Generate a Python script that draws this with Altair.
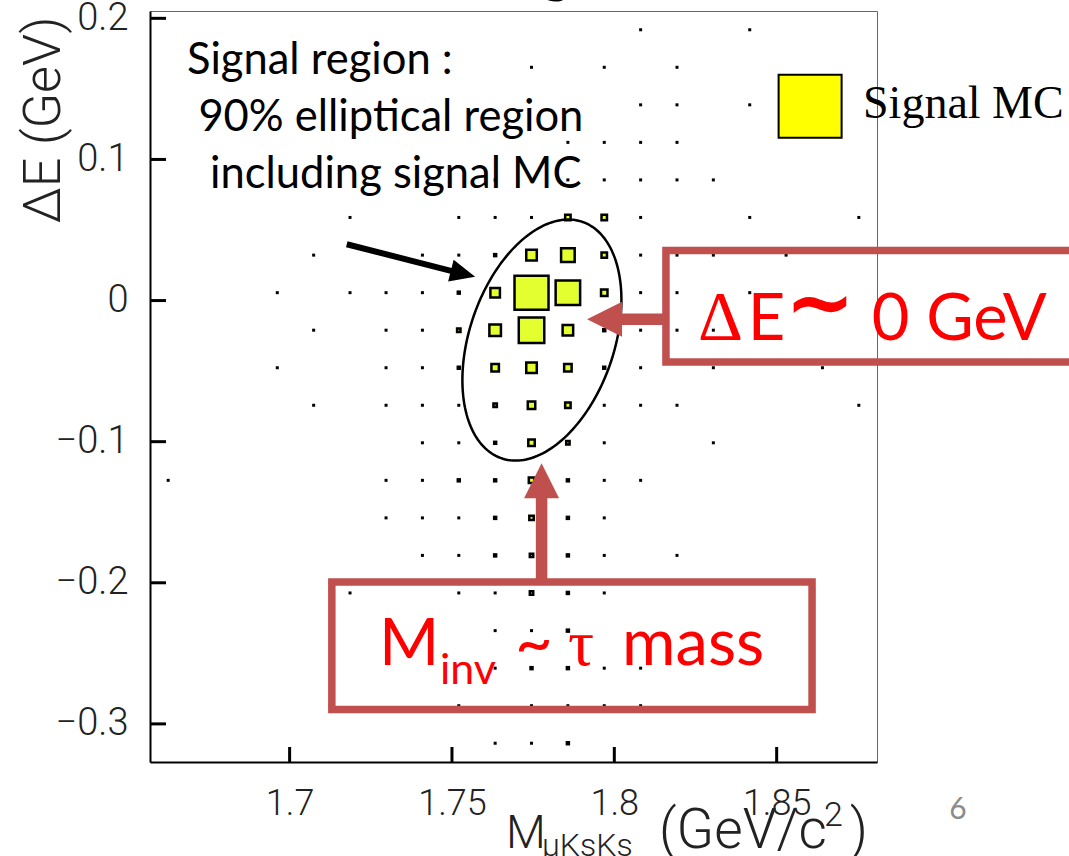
import altair as alt
import pandas as pd

# ---------------- data ----------------
# bin centres of the 20 x 20 histogram
M_CENTERS = [1.6626, 1.6738, 1.6850, 1.6962, 1.7074, 1.7186, 1.7297, 1.7409, 1.7521, 1.7633,
             1.7745, 1.7857, 1.7969, 1.8081, 1.8193, 1.8305, 1.8417, 1.8529, 1.8641, 1.8753]
DE_CENTERS = [0.1919, 0.1653, 0.1387, 0.1121, 0.0855, 0.0589, 0.0322, 0.0056, -0.0210, -0.0476,
              -0.0742, -0.1008, -0.1274, -0.1540, -0.1806, -0.2072, -0.2339, -0.2605, -0.2871, -0.3137]

# background MC: for each ΔE row, the occupied M bins (content 1) and the fuller ones (content 2)
BKG_ONE = [
    [13, 16], [10, 12, 14], [13, 14, 16], [11, 12, 13, 14], [9, 10, 11, 12, 13, 14, 15],
    [5, 8, 9, 10, 11, 12, 13, 16, 19], [4, 7, 8, 10, 11, 12, 13, 14, 15, 17],
    [3, 5, 6, 7, 9, 10, 11, 12, 13, 14, 16], [4, 6, 7, 9, 10, 11, 13, 14, 15],
    [3, 6, 7, 9, 10, 11, 13, 15, 18], [4, 6, 7, 8, 10, 11, 12, 13, 14, 19],
    [7, 8, 10, 11, 12, 15], [0, 6, 7, 10, 12, 13], [6, 7, 8, 10, 12],
    [7, 8, 12, 14], [5, 8, 9, 10, 12], [7, 9, 10], [9, 12, 13], [8, 10, 11, 12, 13], [9, 10],
]
BKG_TWO = [
    [], [], [], [], [], [], [9], [8], [8, 12], [8, 12], [9], [9], [8, 9, 11], [9, 11],
    [9, 10, 11], [11], [11], [10, 11], [], [11],
]

# signal MC: (ΔE row, M bin, content)
SIG_ROW = [5, 5, 6, 6, 6, 7, 7, 7, 7, 8, 8, 8, 8, 9, 9, 9, 10, 10, 10, 11, 11, 12, 13, 14, 15]
SIG_COL = [11, 12, 10, 11, 12, 9, 10, 11, 12, 8, 9, 10, 11, 9, 10, 11, 9, 10, 11, 10, 11, 10, 10, 10, 10]
SIG_N = [16, 16, 31, 40, 16, 28, 100, 72, 19, 10, 34, 75, 31, 22, 31, 22, 10, 22, 16, 19, 10, 16, 13, 10, 10]

X_TICKS = [1.7, 1.75, 1.8, 1.85]
Y_TICKS = [-0.3, -0.2, -0.1, 0.0, 0.1, 0.2]
X_DOMAIN = [1.657, 1.8809]
Y_DOMAIN = [-0.327, 0.2052]

# 90% elliptical signal region: centre and axis coefficients
ELL_CM, ELL_CDE = 1.7777, -0.0280
ELL_AM, ELL_BM, ELL_BDE = 0.02310, -0.00813, -0.08540

# ---------------- tables ----------------
bkg_rows = []
for r, cols in enumerate(BKG_ONE):
    for c in cols:
        bkg_rows.append({"m": M_CENTERS[c], "de": DE_CENTERS[r], "n": 1})
for r, cols in enumerate(BKG_TWO):
    for c in cols:
        bkg_rows.append({"m": M_CENTERS[c], "de": DE_CENTERS[r], "n": 2})
bkg = pd.DataFrame(bkg_rows)
sig = pd.DataFrame({"m": [M_CENTERS[c] for c in SIG_COL],
                    "de": [DE_CENTERS[r] for r in SIG_ROW],
                    "n": SIG_N})

xs = alt.Scale(domain=X_DOMAIN, nice=False, zero=False)
ys = alt.Scale(domain=Y_DOMAIN, nice=False, zero=False)
AXFONT = "Roboto"
x_axis = alt.Axis(values=X_TICKS, format="~g", ticks=False, grid=False, title=None,
                  labelFont=AXFONT, labelFontWeight=300, labelFontSize=36, labelColor="#222",
                  labelPadding=24, labelFlush=False, labelOverlap=False, labelBound=False,
                  domainColor="black", domainWidth=2)
y_axis = alt.Axis(values=Y_TICKS, format="~g", ticks=False, grid=False, title=None,
                  labelFont=AXFONT, labelFontWeight=300, labelFontSize=38, labelColor="#222",
                  labelPadding=22, labelFlush=False, labelOverlap=False, labelBound=False,
                  domainColor="black", domainWidth=2)

def X(field="m"):
    return alt.X(f"{field}:Q", scale=xs, axis=x_axis)

def Y(field="de"):
    return alt.Y(f"{field}:Q", scale=ys, axis=y_axis)

RED = "#C0504D"

bkg_layer = alt.Chart(bkg).mark_square(color="black", opacity=1, clip=False).encode(
    x=X(), y=Y(),
    size=alt.Size("n:Q", scale=alt.Scale(domain=[1, 2], range=[9, 20]), legend=None))

sig_layer = alt.Chart(sig).mark_square(color="#e4ff2f", opacity=1, stroke="black",
                                       strokeWidth=2.5, clip=False).encode(
    x=X(), y=Y(),
    size=alt.Size("n:Q", scale=alt.Scale(type="pow", exponent=2, domain=[0, 100], range=[0, 1156]),
                  legend=None))

# ticks drawn inside the frame (ROOT style)
yt = alt.Chart(pd.DataFrame({"de": Y_TICKS})).mark_rule(color="black", strokeWidth=3).encode(
    y=Y(), x=alt.value(0), x2=alt.value(16))
xt = alt.Chart(pd.DataFrame({"m": X_TICKS})).mark_rule(color="black", strokeWidth=3).encode(
    x=X(), y=alt.value(751), y2=alt.value(736))

ellipse = alt.Chart(alt.sequence(0, 181, 1, as_="i")).transform_calculate(
    t="datum.i * 2 * PI / 180").transform_calculate(
    m=f"{ELL_CM} + {ELL_AM} * cos(datum.t) + {ELL_BM} * sin(datum.t)",
    de=f"{ELL_CDE} + {ELL_BDE} * sin(datum.t)").mark_line(
    color="black", strokeWidth=2.5, clip=False).encode(x=X(), y=Y(), order="i:Q")

# legend box
leg = alt.Chart(pd.DataFrame({"m": [1.8603], "de": [0.1377]})).mark_square(
    color="#FFFF00", opacity=1, stroke="black", strokeWidth=2, size=3969, clip=False).encode(x=X(), y=Y())

# red frames
boxes = alt.Chart(pd.DataFrame({"m": [1.8159, 1.7130], "m2": [1.9449, 1.8609],
                                "de": [0.0355, -0.1995], "de2": [-0.0436, -0.2898]})).mark_rect(
    fill="transparent", stroke=RED, strokeWidth=7.5, clip=False).encode(
    x=X(), x2="m2:Q", y=Y(), y2="de2:Q")

# arrow shafts
shafts_red = alt.Chart(pd.DataFrame({"m": [1.8159, 1.7776], "m2": [1.8020, 1.7776],
                                     "de": [-0.0133, -0.1995], "de2": [-0.0133, -0.1395]})).mark_rule(
    color=RED, strokeWidth=11.5, strokeCap="butt", clip=False).encode(x=X(), x2="m2:Q", y=Y(), y2="de2:Q")
head_left = alt.Chart(pd.DataFrame({"m": [1.7970], "de": [-0.0133]})).mark_point(
    shape="M-1,0L1,-1L1,1Z", filled=True, color=RED, opacity=1, size=1225, clip=False).encode(x=X(), y=Y())
head_up = alt.Chart(pd.DataFrame({"m": [1.7776], "de": [-0.1277]})).mark_point(
    shape="M0,-1L-1,1L1,1Z", filled=True, color=RED, opacity=1, size=1225, clip=False).encode(x=X(), y=Y())

shaft_black = alt.Chart(pd.DataFrame({"m": [1.7176], "m2": [1.7500], "de": [0.0399], "de2": [0.0209]})).mark_rule(
    color="black", strokeWidth=6, strokeCap="butt", clip=False).encode(x=X(), x2="m2:Q", y=Y(), y2="de2:Q")
head_black = alt.Chart(pd.DataFrame({"m": [1.7534], "de": [0.0191]})).mark_point(
    shape="M1,0L-1,-0.9L-1,0.9Z", filled=True, color="black", opacity=1, size=625, angle=14.2,
    clip=False).encode(x=X(), y=Y())

def txt(texts, ms, des, font, size, color, weight="normal", align="left"):
    df = pd.DataFrame({"label": texts, "m": ms, "de": des})
    return alt.Chart(df).mark_text(font=font, fontSize=size, color=color, fontWeight=weight,
                                   align=align, baseline="alphabetic", clip=False).encode(
        x=X(), y=Y(), text="label:N")

black_txt = txt(["Signal region :", "90% elliptical region", "including signal MC"],
                [1.6684, 1.6719, 1.6755], [0.1603, 0.1202, 0.0800], "Lato", 43.5, "black")
legend_txt = txt(["Signal MC"], [1.8766], [0.1296], "Liberation Serif", 46, "black")

red1a = txt(["Δ"], [1.8258], [-0.0280], "Liberation Serif", 70, "#FF0000")
red1b = txt(["E", "0 GeV"], [1.8411, 1.8793], [-0.0280, -0.0280], "Lato", 65, "#FF0000")
red1c = txt(["∼"], [1.8525], [-0.0215], "DejaVu Sans", 84, "#FF0000", weight="bold")
red2a = txt(["M", "~", "mass"], [1.7275, 1.7694, 1.8024], [-0.2585, -0.2583, -0.2583], "Lato", 65, "#FF0000")
red2b = txt(["inv"], [1.7463], [-0.2716], "Lato", 43, "#FF0000")
red2c = txt(["τ"], [1.7857], [-0.2583], "Liberation Serif", 65, "#FF0000")

# axis titles and slide furniture (pixel positions relative to the plot area)
def ptxt(text, px, py, font, size, color, align="left", angle=0, weight="normal"):
    return alt.Chart(pd.DataFrame({"label": [text]})).mark_text(
        font=font, fontSize=size, color=color, align=align, baseline="alphabetic", angle=angle,
        fontWeight=weight, clip=False).encode(x=alt.value(px - 150), y=alt.value(py - 11), text="label:N")

ytitle = ptxt("ΔE (GeV)", 60, 120, AXFONT, 52, "#222", align="center", angle=270, weight=300)
xt_m = ptxt("M", 506, 848, AXFONT, 46, "#222", weight=300)
xt_sub = ptxt("μKsKs", 542, 856, AXFONT, 32, "#222", weight=300)
xt_unit = ptxt("(GeV/c", 659, 848, AXFONT, 55, "#222", weight=300)
xt_sup = ptxt("2", 824, 826, AXFONT, 34, "#222", weight=300)
xt_par = ptxt(")", 850, 848, AXFONT, 55, "#222", weight=300)
page = ptxt("6", 958, 819, "Lato", 30, "#8c8c8c", align="center")
gfrag = ptxt("g", 556, -9, "Lato", 60, "black", align="center")

chart = alt.layer(
    bkg_layer, sig_layer, yt, xt, ellipse, leg, boxes, shafts_red, head_left, head_up,
    shaft_black, head_black, black_txt, legend_txt, red1a, red1b, red1c, red2a, red2b, red2c,
    ytitle, xt_m, xt_sub, xt_unit, xt_sup, xt_par, page, gfrag,
).resolve_scale(size="independent").properties(
    width=727, height=751,
    autosize=alt.AutoSizeParams(type="none"),
    padding={"left": 150, "top": 11, "right": 192, "bottom": 94},
    background="white",
).configure_view(stroke="#666", strokeWidth=1)

chart.save("out.html", embed_options={"renderer": "svg", "actions": False})
